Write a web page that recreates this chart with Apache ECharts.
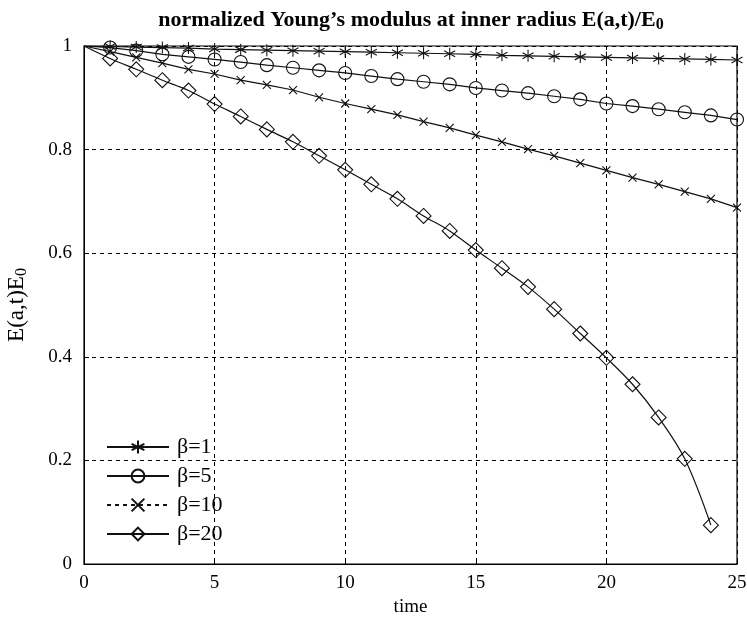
<!DOCTYPE html>
<html>
<head>
<meta charset="utf-8">
<script src="https://cdn.jsdelivr.net/npm/echarts@6/dist/echarts.min.js"></script>
<style>html,body{margin:0;padding:0;background:#fff}#c{width:747px;height:619px}</style>
</head>
<body>
<div id="c"></div>
<script>
const times = [1,2,3,4,5,6,7,8,9,10,11,12,13,14,15,16,17,18,19,20,21,22,23,24,25];
const beta1 = [0.999,0.998,0.997,0.996,0.994,0.993,0.992,0.991,0.990,0.989,0.988,0.987,0.986,0.985,0.984,0.982,0.981,0.980,0.979,0.978,0.977,0.976,0.975,0.974,0.973];
const beta5 = [0.997,0.991,0.984,0.979,0.974,0.969,0.963,0.958,0.953,0.948,0.942,0.936,0.931,0.926,0.919,0.914,0.909,0.903,0.897,0.889,0.884,0.878,0.872,0.866,0.858];
const beta10 = [0.989,0.978,0.967,0.955,0.946,0.934,0.925,0.915,0.901,0.889,0.878,0.867,0.854,0.842,0.828,0.815,0.801,0.788,0.774,0.760,0.746,0.733,0.719,0.705,0.688];
const beta20 = [0.976,0.955,0.934,0.914,0.888,0.864,0.839,0.815,0.788,0.761,0.733,0.705,0.672,0.643,0.606,0.571,0.535,0.492,0.445,0.398,0.347,0.283,0.203,0.075];
const startPoint = [0, 1];
const seriesNames = ['β=1','β=5','β=10','β=20'];
const xTicks = [0,5,10,15,20,25];
const yTicks = [0,0.2,0.4,0.6,0.8,1];

const FONT = '"Liberation Serif", "Times New Roman", serif';
const starPath = 'path://M0,-6L0,6M-5.2,-3L5.2,3M-5.2,3L5.2,-3';
const xPath = 'path://M-4,-4L4,4M-4,4L4,-4';

function build(vals){
  const d = [{value: startPoint, symbol: 'none'}];
  vals.forEach((v,i)=>d.push([times[i], v]));
  return d;
}
function mk(name, vals, symbol, size, smooth){
  return {
    name, type:'line', data: build(vals), symbol, symbolSize: size, smooth: smooth||false,
    showAllSymbol: true,
    lineStyle:{color:'#111', width:1.2},
    itemStyle:{color:'rgba(0,0,0,0)', borderColor:'#111', borderWidth:1.1},
    emphasis:{disabled:true}, animation:false, z: 3
  };
}
const chart = echarts.init(document.getElementById('c'), null, {renderer:'canvas'});
chart.setOption({
  backgroundColor:'#fff',
  animation:false,
  textStyle:{fontFamily:FONT},
  title:{
    text:'normalized Young’s modulus at inner radius E(a,t)/E{sub|0}',
    left: 406, top: 2, textAlign:'center',
    textStyle:{fontFamily:FONT, fontWeight:'bold', fontSize:22, color:'#000',
      rich:{sub:{fontFamily:FONT, fontWeight:'bold', fontSize:16, color:'#000', padding:[10,0,0,0]}}}
  },
  legend:{
    orient:'vertical', left: 101, top: 431, itemWidth: 62, itemHeight: 16, itemGap: 7,
    textStyle:{fontFamily:FONT, fontSize:22, color:'#000', padding:[0,0,0,3]},
    data:[
      {name:'β=1'},
      {name:'β=5'},
      {name:'β=10', lineStyle:{type:[4,4]}},
      {name:'β=20'}
    ]
  },
  grid:{left:84, right:10, top:46, bottom:55, containLabel:false, outerBoundsMode:'none',
    show:true, borderColor:'#000', borderWidth:1.2, backgroundColor:'transparent'},
  xAxis:{
    type:'value', min:0, max:25, interval:5,
    name:'time', nameLocation:'middle', nameGap:33,
    nameTextStyle:{fontFamily:FONT, fontSize:19, color:'#000'},
    axisLine:{show:true, lineStyle:{color:'#000'}},
    axisTick:{show:true, inside:true, length:5, lineStyle:{color:'#000'}},
    axisLabel:{fontFamily:FONT, fontSize:19, color:'#000', margin:10,
      formatter: v => xTicks.includes(v) ? String(v) : ''},
    splitLine:{show:true, lineStyle:{color:'#000', type:[4,4], width:1}}
  },
  yAxis:{
    type:'value', min:0, max:1, interval:0.2,
    name:'E(a,t)E{sub|0}', nameLocation:'middle', nameGap:54, nameRotate:90,
    nameTextStyle:{fontFamily:FONT, fontSize:23, color:'#000',
      rich:{sub:{fontFamily:FONT, fontSize:16, color:'#000', padding:[10,0,0,0]}}},
    axisLine:{show:true, lineStyle:{color:'#000'}},
    axisTick:{show:true, inside:true, length:5, lineStyle:{color:'#000'}},
    axisLabel:{fontFamily:FONT, fontSize:19, color:'#000', margin:12,
      formatter: v => { const t = yTicks.find(y=>Math.abs(y-v)<1e-9); return t===undefined?'':String(t); }},
    splitLine:{show:true, lineStyle:{color:'#000', type:[4,4], width:1}}
  },
  series:[
    mk(seriesNames[0], beta1, starPath, [11,12]),
    mk(seriesNames[1], beta5, 'circle', 13),
    mk(seriesNames[2], beta10, xPath, 8),
    mk(seriesNames[3], beta20, 'diamond', [15,15], 0.35)
  ]
});
</script>
</body>
</html>
